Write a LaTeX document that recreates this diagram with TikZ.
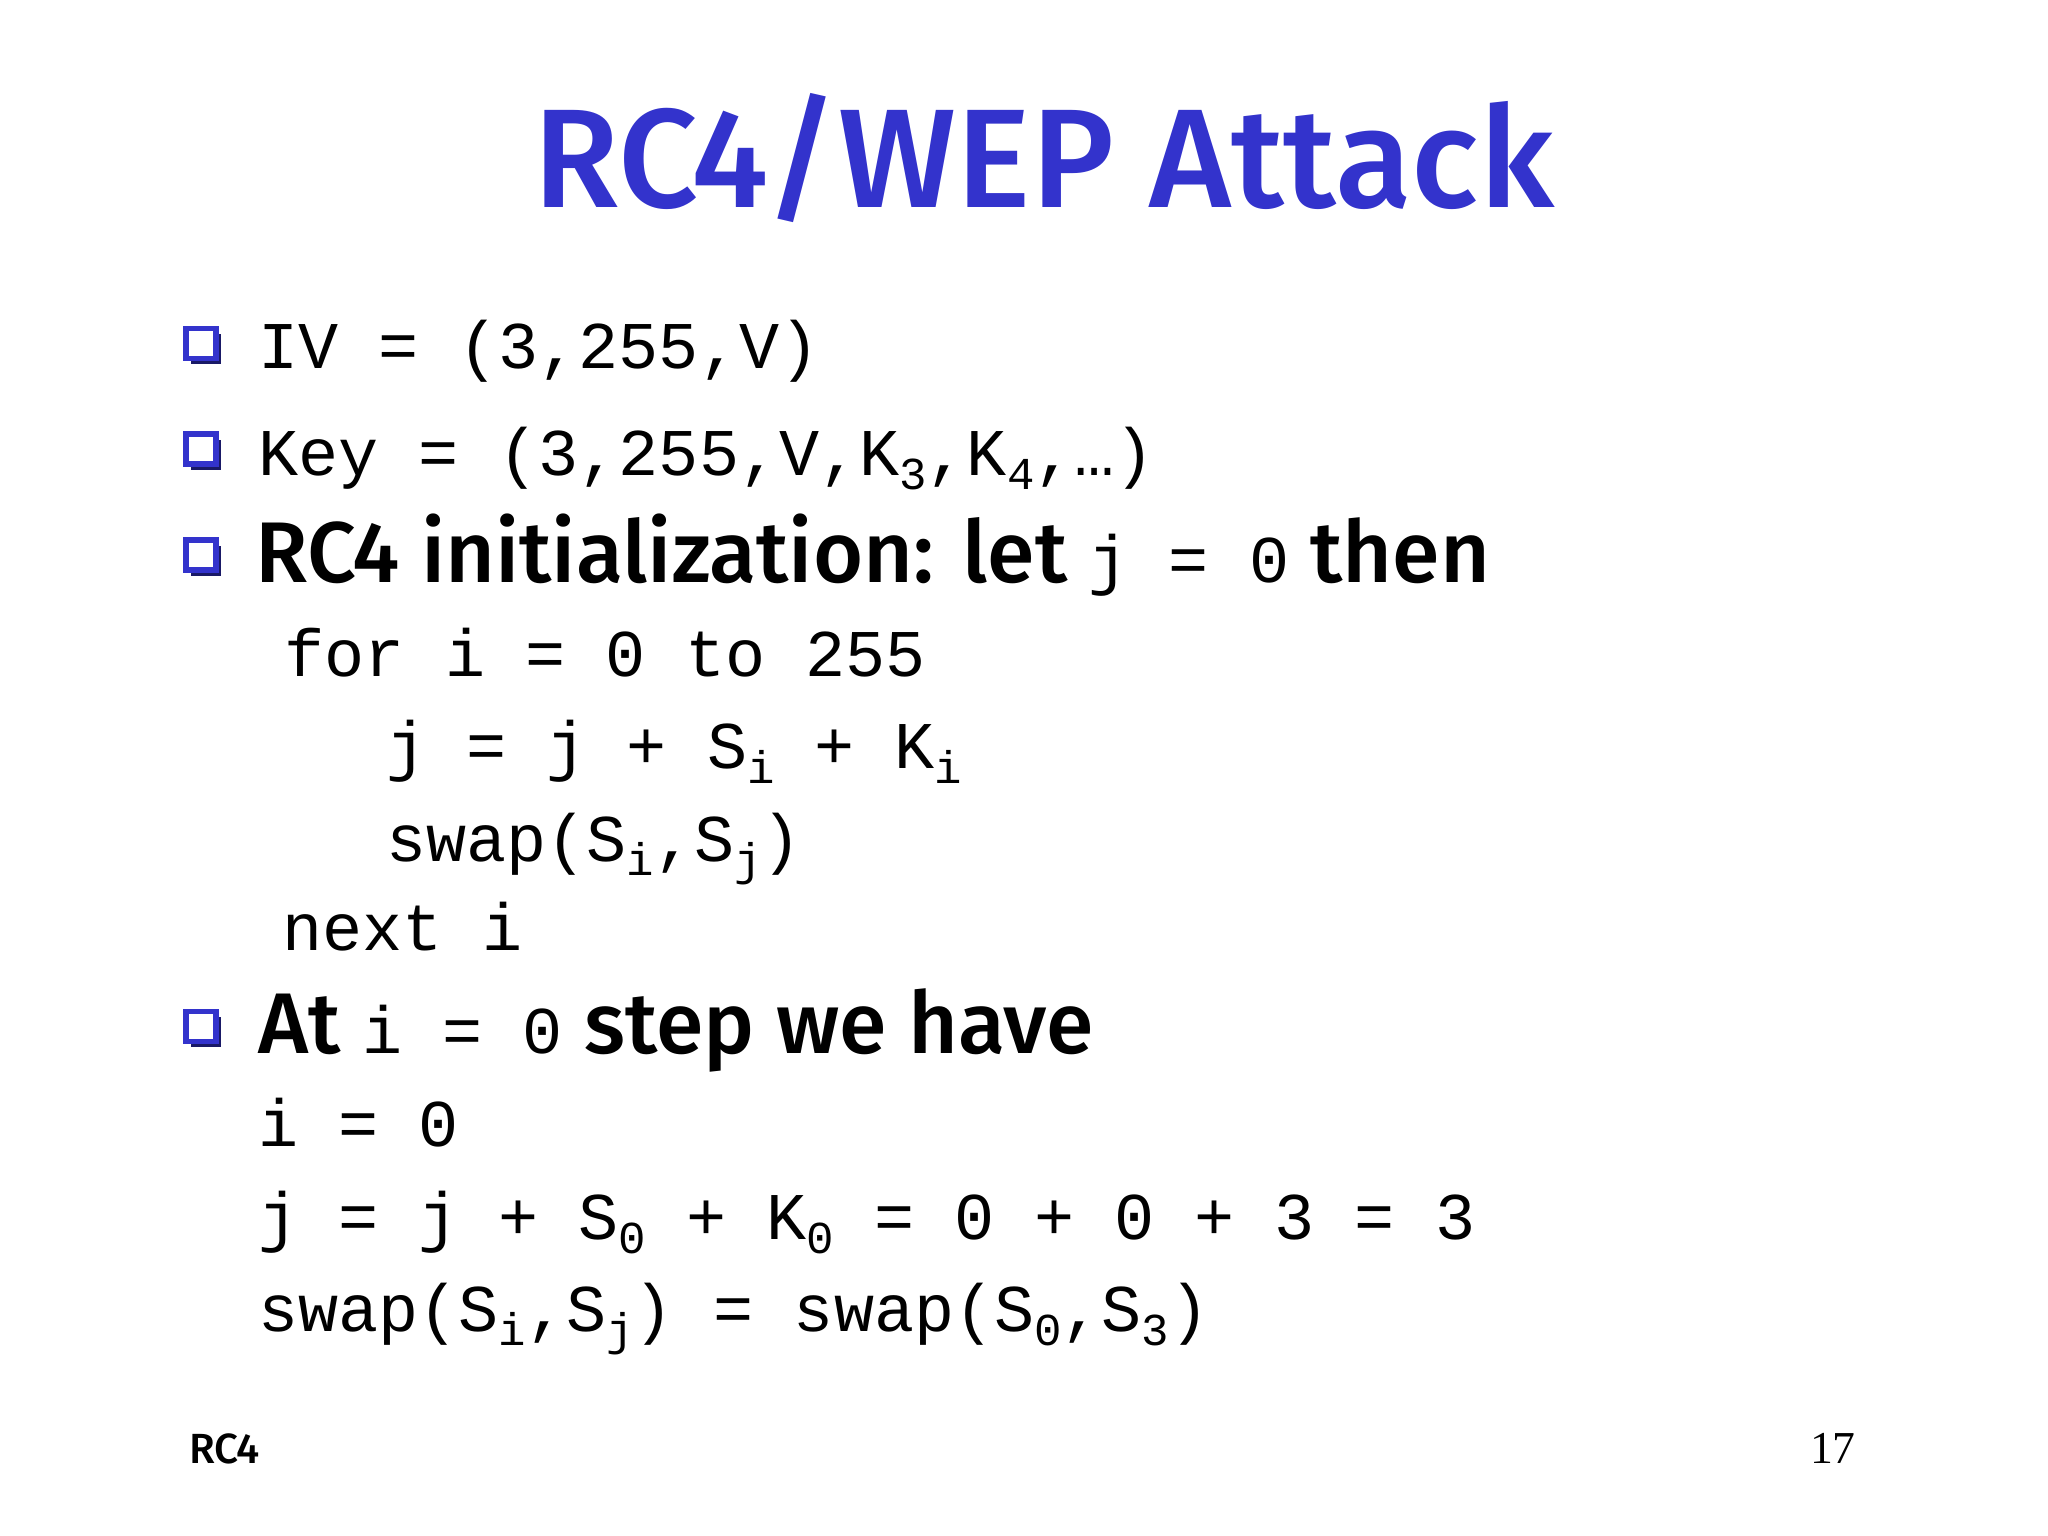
\documentclass[tikz,border=0pt]{standalone}
\usepackage{fontspec}
\setmainfont{Liberation Serif}
\newfontfamily\cf{Fira Sans Medium}
\newfontfamily\mf{Liberation Mono}
\definecolor{tblue}{RGB}{51,51,204}
\newcommand{\mysub}[1]{\raisebox{-0.4ex}{\fontsize{13}{13}\selectfont #1}}
\newcommand{\mn}{\mf\fontsize{19}{23}\selectfont}
\tikzset{
  mono/.style={anchor=base west,inner sep=0pt,font=\mn},
  comic/.style={anchor=base west,inner sep=0pt,font=\cf\fontsize{24.5}{30}\selectfont},
  bul/.style={draw=tblue,fill=white,line width=1.6pt,minimum size=0.3cm,inner sep=0pt,
    preaction={fill=tblue!50!black,transform canvas={shift={(1.6pt,-1.6pt)}}}}
}
\begin{document}
\begin{tikzpicture}[x=0.013213cm,y=-0.013213cm]
\useasboundingbox (0,0) rectangle (1550,1162.5);
\node[anchor=base,inner sep=0pt,text=tblue,font=\cf\fontsize{40}{48}\selectfont] (title) at (790,157) {RC4/WEP Attack};
\node[bul] (b1) at (152,260) {};
\node[bul] (b2) at (152,340) {};
\node[bul] (b3) at (152,420) {};
\node[bul] (b4) at (152,777) {};
\node[mono] (l1) at (195,279) {IV = (3,255,V)};
\node[mono] (l2) at (195,360) {Key = (3,255,V,K\mysub{3},K\mysub{4},\dots)};
\node[comic] (l3) at (193,441) {RC4 initialization: let {\mn j = 0} then};
\node[mono] (l4) at (215,512) {for i = 0 to 255};
\node[mono] (l5) at (292,582) {j = j + S\mysub{i} + K\mysub{i}};
\node[mono] (l6) at (292,652) {swap(S\mysub{i},S\mysub{j})};
\node[mono] (l7) at (213,719) {next i};
\node[comic] (l8) at (195,797) {At {\mn i = 0} step we have};
\node[mono] (l9) at (195,868) {i = 0};
\node[mono] (l10) at (195,938) {j = j + S\mysub{0} + K\mysub{0} = 0 + 0 + 3 = 3};
\node[mono] (l11) at (195,1008) {swap(S\mysub{i},S\mysub{j}) = swap(S\mysub{0},S\mysub{3})};
\node[anchor=base west,inner sep=0pt,font=\cf\fontsize{12}{14}\selectfont] (f1) at (143,1108) {RC4};
\node[anchor=base east,inner sep=0pt,font=\fontsize{13}{15}\selectfont] (f2) at (1405,1108) {17};
\end{tikzpicture}
\end{document}
